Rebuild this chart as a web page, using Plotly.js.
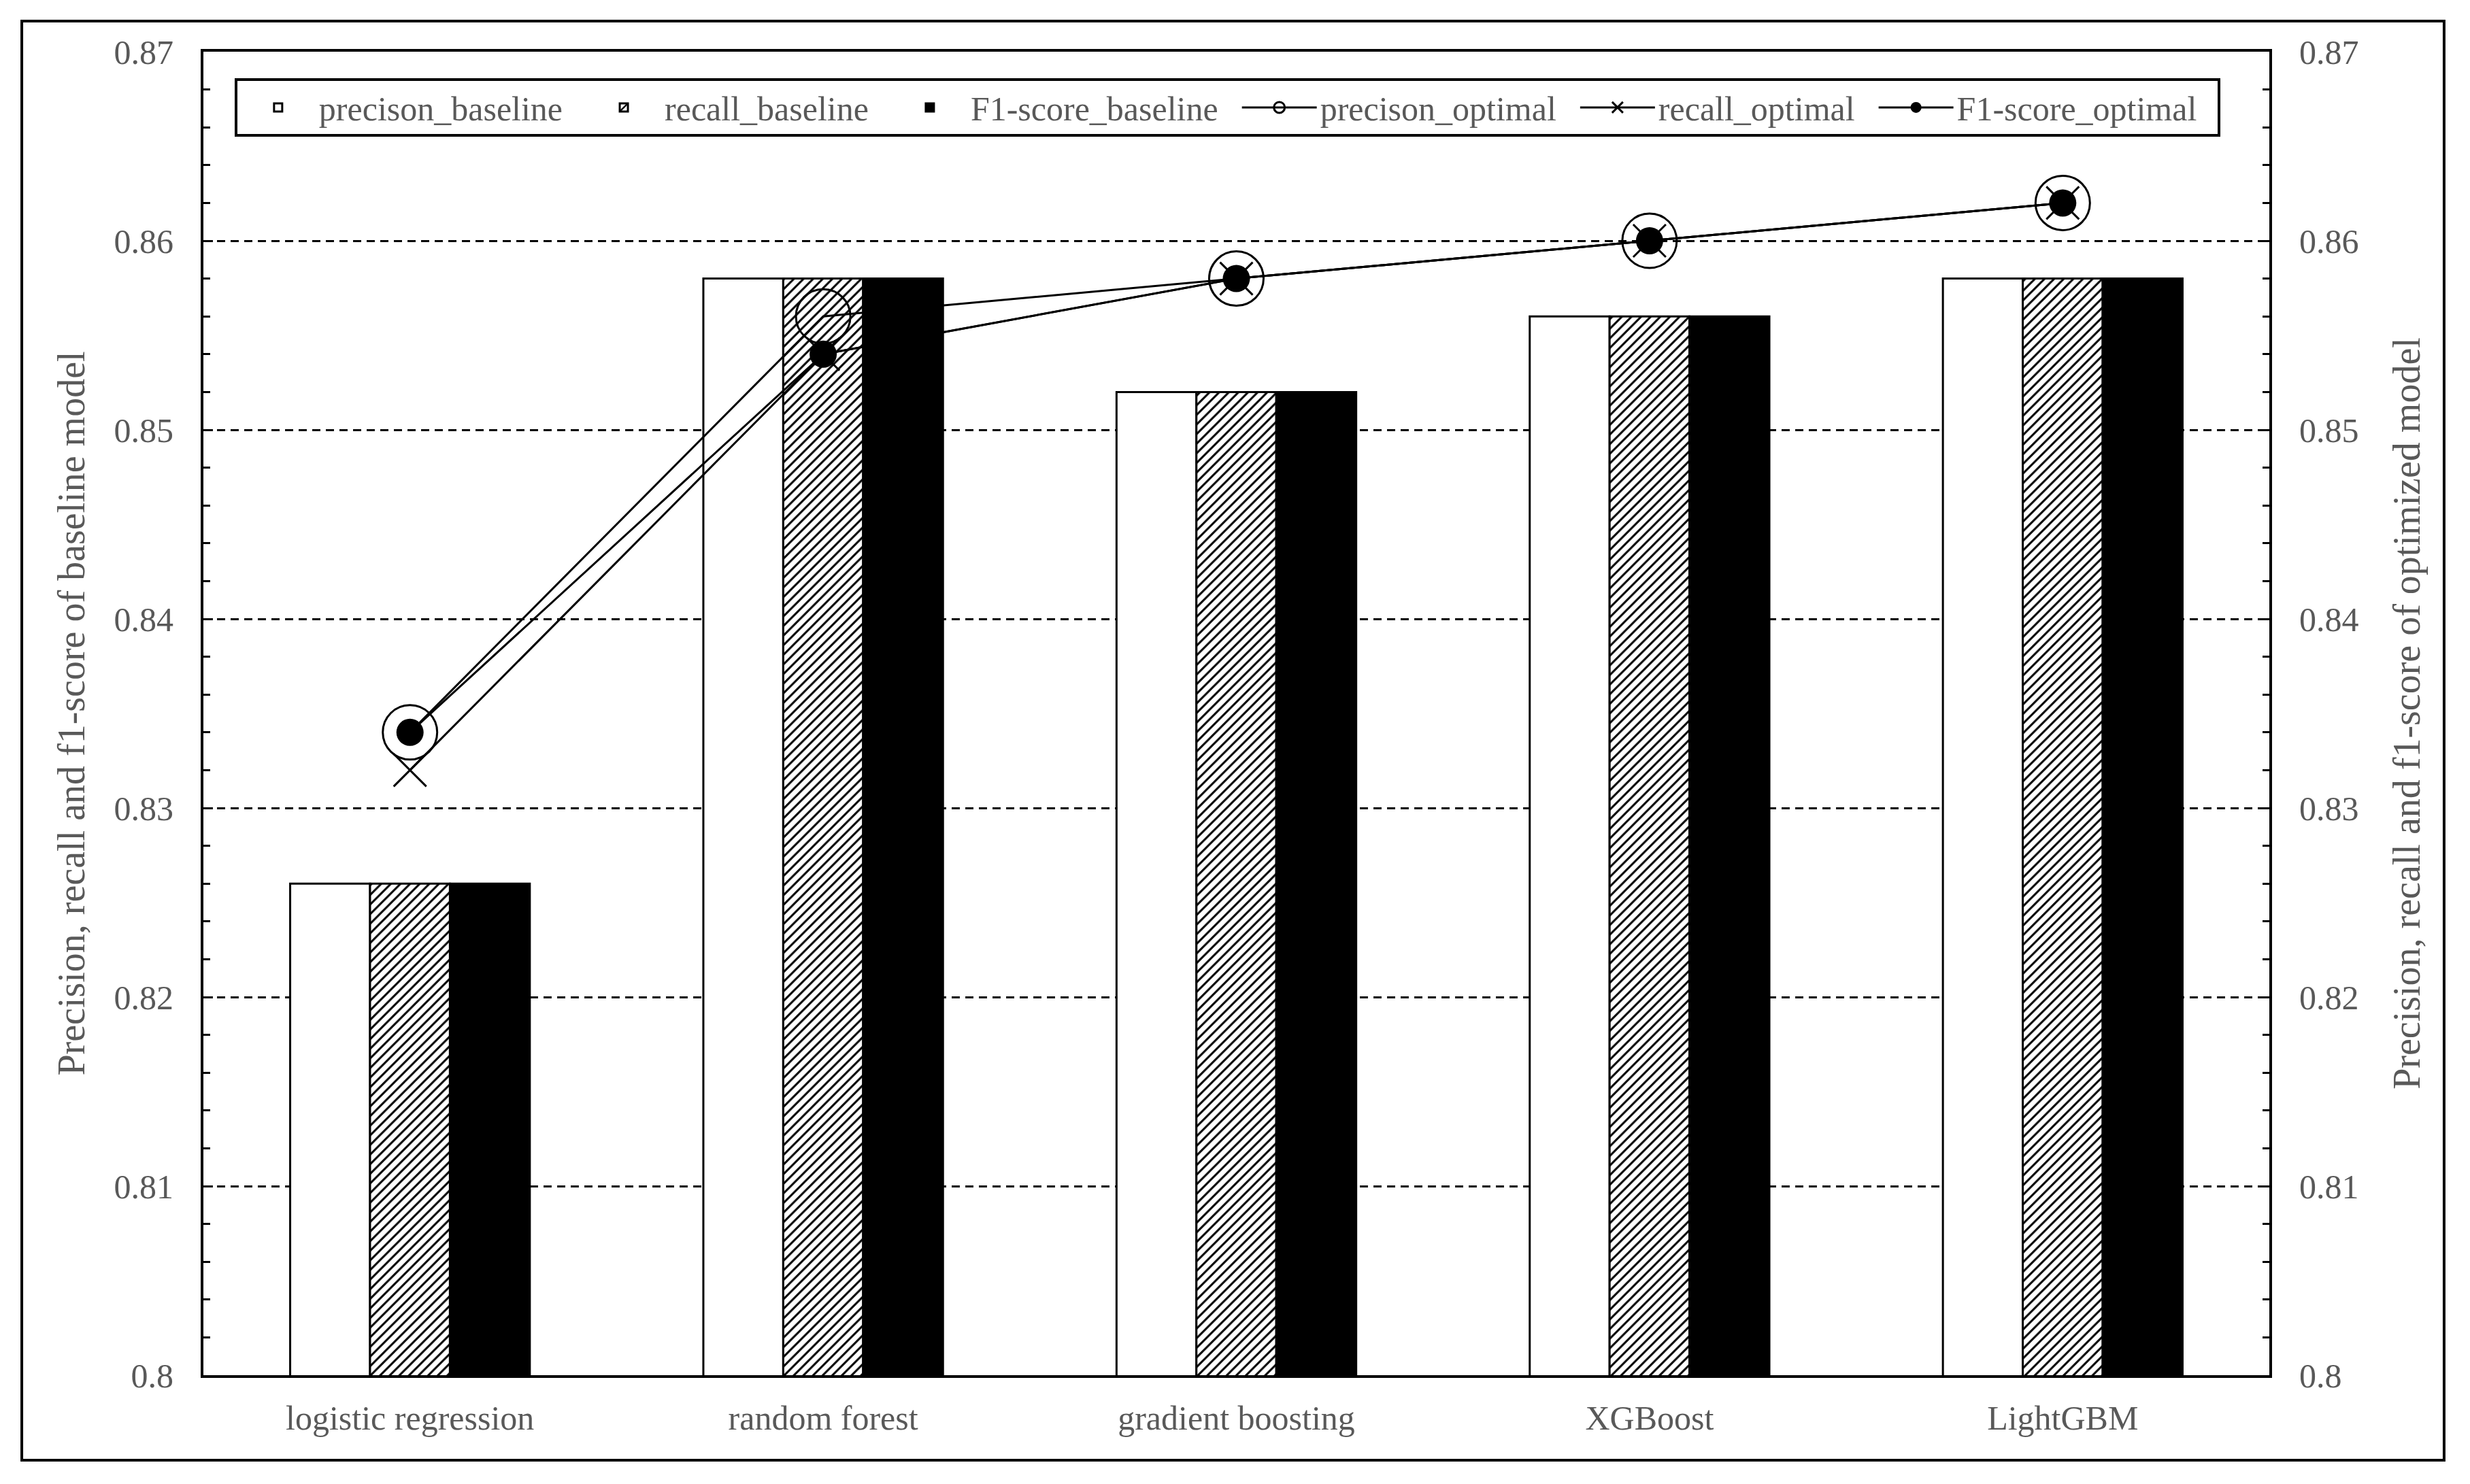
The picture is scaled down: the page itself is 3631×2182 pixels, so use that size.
<!DOCTYPE html>
<html>
<head>
<meta charset="utf-8">
<script src="https://cdn.plot.ly/plotly-3.0.1.min.js"></script>
<style>
  html, body { margin: 0; padding: 0; background: #fff; }
  #chart { width: 3631px; height: 2182px; }
</style>
</head>
<body>
<div id="chart"></div>
<script>
// values
const categories = ['logistic regression', 'random forest', 'gradient boosting', 'XGBoost', 'LightGBM'];
const precisionBaseline = [0.826, 0.858, 0.852, 0.856, 0.858];
const recallBaseline = [0.826, 0.858, 0.852, 0.856, 0.858];
const f1Baseline = [0.826, 0.858, 0.852, 0.856, 0.858];
const precisionOptimal = [0.834, 0.856, 0.858, 0.860, 0.862];
const recallOptimal = [0.832, 0.854, 0.858, 0.860, 0.862];
const f1Optimal = [0.834, 0.854, 0.858, 0.860, 0.862];

const serif = 'Liberation Serif, Times New Roman, serif';
const textFont = { family: serif, size: 50, color: '#595959' };
const titleFont = { family: serif, size: 56, color: '#595959' };
const outline = { color: '#000', width: 3 };
const pad = '\u00a0\u00a0'; // a little room after each legend entry

const plotData = [
  {
    x: categories, y: precisionBaseline, type: 'bar', name: 'precison_baseline' + pad,
    marker: { color: '#fff', line: outline }
  },
  {
    x: categories, y: recallBaseline, type: 'bar', name: 'recall_baseline' + pad,
    marker: { color: '#fff', line: outline,
      pattern: { shape: '/', fgcolor: '#000', bgcolor: '#fff', size: 10, solidity: 0.3 } }
  },
  {
    x: categories, y: f1Baseline, type: 'bar', name: 'F1-score_baseline' + pad,
    marker: { color: '#000', line: outline }
  },
  {
    x: categories, y: precisionOptimal, type: 'scatter', mode: 'lines+markers', name: 'precison_optimal' + pad,
    yaxis: 'y2', line: { color: '#000', width: 3 },
    marker: { symbol: 'circle-open', size: 80, color: '#000', line: { width: 3, color: '#000' } }
  },
  {
    x: categories, y: recallOptimal, type: 'scatter', mode: 'lines+markers', name: 'recall_optimal' + pad,
    yaxis: 'y2', line: { color: '#000', width: 3 },
    marker: { symbol: 'x-thin-open', size: 48, color: '#000', line: { width: 3, color: '#000' } }
  },
  {
    x: categories, y: f1Optimal, type: 'scatter', mode: 'lines+markers', name: 'F1-score_optimal' + pad,
    yaxis: 'y2', line: { color: '#000', width: 3 },
    marker: { symbol: 'circle', size: 40, color: '#000' }
  }
];

const yCommon = {
  range: [0.8, 0.87],
  dtick: 0.01,
  tick0: 0.8,
  ticks: 'inside',
  ticklen: 14,
  tickwidth: 3,
  tickcolor: '#000',
  minor: { dtick: 0.002, ticks: 'inside', ticklen: 10, tickwidth: 3, tickcolor: '#000' },
  showline: true,
  linecolor: '#000',
  linewidth: 4,
  zeroline: false,
  tickfont: textFont,
  ticklabelstandoff: 30,
  automargin: false
};

const layout = {
  width: 3631,
  height: 2182,
  margin: { l: 299, r: 295, t: 76, b: 160 },
  paper_bgcolor: '#fff',
  plot_bgcolor: '#fff',
  font: textFont,
  barmode: 'group',
  bargap: 0.42,
  bargroupgap: 0,
  showlegend: true,
  legend: {
    orientation: 'h',
    x: 0.0151, y: 0.98, xanchor: 'left', yanchor: 'top',
    bgcolor: '#fff', bordercolor: '#000', borderwidth: 4,
    font: textFont,
    itemwidth: 110,
    traceorder: 'normal'
  },
  xaxis: {
    type: 'category',
    showline: true, linecolor: '#000', linewidth: 4, mirror: true,
    ticks: '', showgrid: false,
    tickfont: textFont,
    ticklabelstandoff: 16,
    automargin: false
  },
  yaxis: Object.assign({}, yCommon, {
    showgrid: true, gridcolor: '#000', gridwidth: 3, griddash: '12px,8px',
    title: { text: 'Precision, recall and f1-score of baseline model', font: titleFont, standoff: 26 }
  }),
  yaxis2: Object.assign({}, yCommon, {
    overlaying: 'y', side: 'right', showgrid: false,
    title: { text: 'Precision, recall and f1-score of optimized model', font: titleFont, standoff: 52 }
  }),
  shapes: [
    { type: 'rect', xref: 'paper', yref: 'paper',
      x0: -0.0879, x1: 1.0846, y0: -0.0642, y1: 1.0231,
      line: { color: '#000', width: 4 }, fillcolor: 'rgba(0,0,0,0)', layer: 'below' }
  ]
};

Plotly.newPlot('chart', plotData, layout, { staticPlot: true });
</script>
</body>
</html>
